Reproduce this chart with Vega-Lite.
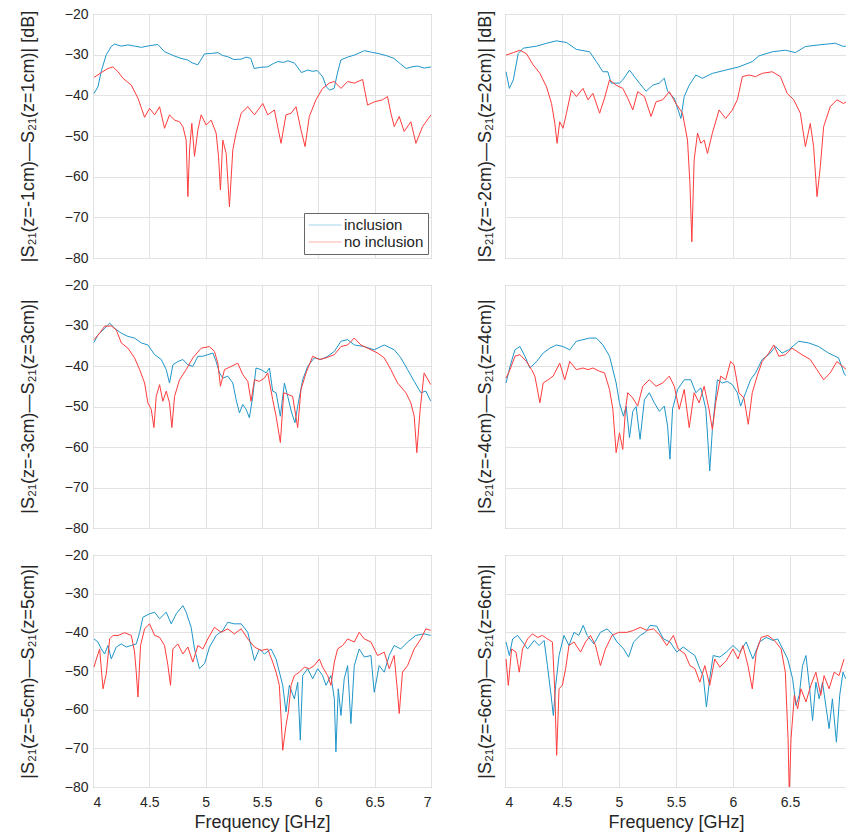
{
"$schema": "https://vega.github.io/schema/vega-lite/v6.json",
"background": "white",
"padding": {"left": 18, "top": 6, "right": 0, "bottom": 0},
"autosize": {"type": "pad"},
"config": {
  "font": "Liberation Sans",
  "view": {"stroke": "#8f8f8f", "strokeWidth": 1},
  "axis": {"domain": false, "grid": true, "gridColor": "#e2e2e2", "gridWidth": 1, "ticks": false, "labelFont": "Liberation Sans", "labelFontSize": 14, "labelColor": "#262626", "titleFont": "Liberation Sans", "titleFontWeight": "normal", "titleColor": "#262626", "titleFontSize": 18},
  "line": {"strokeWidth": 1}
},
"datasets": {
  "p1i": [{"freq":4.01,"dB":-39.5},{"freq":4.044,"dB":-37.9},{"freq":4.074,"dB":-34},{"freq":4.118,"dB":-30},{"freq":4.162,"dB":-28},{"freq":4.19,"dB":-27.4},{"freq":4.25,"dB":-27.9},{"freq":4.31,"dB":-27.6},{"freq":4.37,"dB":-27.9},{"freq":4.43,"dB":-28.2},{"freq":4.5,"dB":-27.8},{"freq":4.576,"dB":-27.5},{"freq":4.635,"dB":-29.3},{"freq":4.68,"dB":-29.8},{"freq":4.72,"dB":-30.3},{"freq":4.78,"dB":-30.9},{"freq":4.84,"dB":-31.3},{"freq":4.88,"dB":-32},{"freq":4.93,"dB":-32.5},{"freq":4.99,"dB":-29.8},{"freq":5.05,"dB":-29.7},{"freq":5.11,"dB":-29.5},{"freq":5.15,"dB":-30.2},{"freq":5.196,"dB":-30.5},{"freq":5.25,"dB":-31.2},{"freq":5.315,"dB":-31.1},{"freq":5.36,"dB":-30.6},{"freq":5.4,"dB":-30.9},{"freq":5.43,"dB":-33.4},{"freq":5.49,"dB":-33.1},{"freq":5.55,"dB":-33},{"freq":5.6,"dB":-32.2},{"freq":5.64,"dB":-31.7},{"freq":5.69,"dB":-31.9},{"freq":5.73,"dB":-31.5},{"freq":5.79,"dB":-32.1},{"freq":5.85,"dB":-34.4},{"freq":5.905,"dB":-33.8},{"freq":5.95,"dB":-34.1},{"freq":5.99,"dB":-33.9},{"freq":6.04,"dB":-35.5},{"freq":6.07,"dB":-37.9},{"freq":6.1,"dB":-38.7},{"freq":6.14,"dB":-38.3},{"freq":6.17,"dB":-34.5},{"freq":6.2,"dB":-31.3},{"freq":6.26,"dB":-30.6},{"freq":6.32,"dB":-30.1},{"freq":6.37,"dB":-29.5},{"freq":6.41,"dB":-29},{"freq":6.47,"dB":-29.4},{"freq":6.53,"dB":-29.7},{"freq":6.6,"dB":-30.2},{"freq":6.67,"dB":-30.9},{"freq":6.73,"dB":-32.3},{"freq":6.78,"dB":-33.4},{"freq":6.83,"dB":-33},{"freq":6.88,"dB":-32.8},{"freq":6.94,"dB":-33.3},{"freq":7.0,"dB":-33}],
  "p1n": [{"freq":4.009,"dB":-35.6},{"freq":4.074,"dB":-34.4},{"freq":4.133,"dB":-33.4},{"freq":4.177,"dB":-33},{"freq":4.222,"dB":-34.2},{"freq":4.266,"dB":-35.8},{"freq":4.34,"dB":-37.5},{"freq":4.399,"dB":-40.7},{"freq":4.458,"dB":-45.4},{"freq":4.502,"dB":-43.2},{"freq":4.547,"dB":-44.8},{"freq":4.591,"dB":-42.8},{"freq":4.635,"dB":-48.1},{"freq":4.679,"dB":-44.8},{"freq":4.724,"dB":-46.1},{"freq":4.768,"dB":-46.5},{"freq":4.798,"dB":-47.7},{"freq":4.827,"dB":-51},{"freq":4.842,"dB":-64.9},{"freq":4.857,"dB":-53.4},{"freq":4.877,"dB":-46.9},{"freq":4.901,"dB":-55},{"freq":4.931,"dB":-48.5},{"freq":4.96,"dB":-44.8},{"freq":5.004,"dB":-47.3},{"freq":5.049,"dB":-46.1},{"freq":5.093,"dB":-49.3},{"freq":5.114,"dB":-55},{"freq":5.131,"dB":-63.3},{"freq":5.152,"dB":-51},{"freq":5.182,"dB":-54.3},{"freq":5.211,"dB":-67.4},{"freq":5.241,"dB":-53.4},{"freq":5.27,"dB":-49.3},{"freq":5.315,"dB":-44.4},{"freq":5.374,"dB":-42.8},{"freq":5.433,"dB":-44.8},{"freq":5.507,"dB":-42},{"freq":5.551,"dB":-44.8},{"freq":5.61,"dB":-43.6},{"freq":5.669,"dB":-51.8},{"freq":5.713,"dB":-44.8},{"freq":5.758,"dB":-44.4},{"freq":5.802,"dB":-42.8},{"freq":5.846,"dB":-48.5},{"freq":5.882,"dB":-52.6},{"freq":5.92,"dB":-45.2},{"freq":5.979,"dB":-41.1},{"freq":6.038,"dB":-38.3},{"freq":6.097,"dB":-37},{"freq":6.142,"dB":-36.6},{"freq":6.201,"dB":-38.3},{"freq":6.26,"dB":-36.6},{"freq":6.319,"dB":-37},{"freq":6.393,"dB":-36.1},{"freq":6.437,"dB":-42.4},{"freq":6.496,"dB":-41.6},{"freq":6.57,"dB":-41.1},{"freq":6.614,"dB":-40.3},{"freq":6.644,"dB":-44.4},{"freq":6.674,"dB":-47.7},{"freq":6.718,"dB":-45.2},{"freq":6.762,"dB":-48.9},{"freq":6.821,"dB":-46.5},{"freq":6.866,"dB":-51.8},{"freq":6.925,"dB":-47.7},{"freq":7.0,"dB":-44.8}],
  "p2i": [{"freq":4.009,"dB":-34.2},{"freq":4.038,"dB":-38.3},{"freq":4.073,"dB":-36.2},{"freq":4.116,"dB":-29.7},{"freq":4.16,"dB":-28.4},{"freq":4.277,"dB":-27.9},{"freq":4.364,"dB":-27.2},{"freq":4.451,"dB":-26.6},{"freq":4.539,"dB":-27},{"freq":4.626,"dB":-28.7},{"freq":4.742,"dB":-29.3},{"freq":4.801,"dB":-31.7},{"freq":4.859,"dB":-34.2},{"freq":4.902,"dB":-34.2},{"freq":4.932,"dB":-37},{"freq":5.004,"dB":-37},{"freq":5.033,"dB":-36.2},{"freq":5.092,"dB":-33.8},{"freq":5.135,"dB":-35.4},{"freq":5.179,"dB":-37},{"freq":5.237,"dB":-39},{"freq":5.296,"dB":-37.5},{"freq":5.354,"dB":-37},{"freq":5.397,"dB":-35.8},{"freq":5.426,"dB":-39},{"freq":5.485,"dB":-40.7},{"freq":5.543,"dB":-45.7},{"freq":5.572,"dB":-40.3},{"freq":5.616,"dB":-37.5},{"freq":5.674,"dB":-35},{"freq":5.732,"dB":-35.8},{"freq":5.82,"dB":-34.6},{"freq":5.936,"dB":-33.8},{"freq":6.052,"dB":-33},{"freq":6.169,"dB":-31.7},{"freq":6.227,"dB":-30.3},{"freq":6.344,"dB":-29.3},{"freq":6.46,"dB":-28.9},{"freq":6.547,"dB":-29.5},{"freq":6.635,"dB":-28},{"freq":6.751,"dB":-27.6},{"freq":6.897,"dB":-27.2},{"freq":6.97,"dB":-28},{"freq":7.0,"dB":-27.8}],
  "p2n": [{"freq":4.009,"dB":-30.1},{"freq":4.073,"dB":-29.5},{"freq":4.131,"dB":-28.9},{"freq":4.189,"dB":-29.8},{"freq":4.247,"dB":-32.5},{"freq":4.306,"dB":-34.6},{"freq":4.364,"dB":-37.9},{"freq":4.408,"dB":-42},{"freq":4.437,"dB":-46.9},{"freq":4.457,"dB":-51.8},{"freq":4.48,"dB":-46.5},{"freq":4.509,"dB":-48.1},{"freq":4.539,"dB":-44.4},{"freq":4.582,"dB":-38.7},{"freq":4.626,"dB":-40.3},{"freq":4.684,"dB":-38.3},{"freq":4.728,"dB":-41.1},{"freq":4.771,"dB":-39.5},{"freq":4.83,"dB":-44.4},{"freq":4.873,"dB":-40.7},{"freq":4.917,"dB":-36.2},{"freq":4.975,"dB":-37.5},{"freq":5.033,"dB":-38.3},{"freq":5.077,"dB":-40.7},{"freq":5.121,"dB":-43.6},{"freq":5.164,"dB":-39.1},{"freq":5.223,"dB":-40.3},{"freq":5.281,"dB":-45.2},{"freq":5.325,"dB":-41.6},{"freq":5.383,"dB":-41.1},{"freq":5.441,"dB":-39.1},{"freq":5.499,"dB":-42},{"freq":5.557,"dB":-44.4},{"freq":5.601,"dB":-51},{"freq":5.622,"dB":-61.6},{"freq":5.639,"dB":-76},{"freq":5.659,"dB":-55.9},{"freq":5.689,"dB":-49.3},{"freq":5.718,"dB":-51.8},{"freq":5.747,"dB":-51},{"freq":5.776,"dB":-54.3},{"freq":5.819,"dB":-49.3},{"freq":5.878,"dB":-43.6},{"freq":5.936,"dB":-45.7},{"freq":5.994,"dB":-43.6},{"freq":6.038,"dB":-41.1},{"freq":6.082,"dB":-35.4},{"freq":6.14,"dB":-35},{"freq":6.198,"dB":-35.4},{"freq":6.256,"dB":-34.6},{"freq":6.344,"dB":-34.2},{"freq":6.416,"dB":-35.4},{"freq":6.475,"dB":-39.5},{"freq":6.533,"dB":-41.1},{"freq":6.591,"dB":-44.4},{"freq":6.635,"dB":-52.6},{"freq":6.678,"dB":-46.9},{"freq":6.707,"dB":-52.6},{"freq":6.737,"dB":-64.9},{"freq":6.766,"dB":-57.5},{"freq":6.795,"dB":-47.7},{"freq":6.853,"dB":-42.8},{"freq":6.911,"dB":-41.1},{"freq":6.97,"dB":-42},{"freq":7.0,"dB":-41.5}],
  "p3i": [{"freq":4.009,"dB":-34.2},{"freq":4.044,"dB":-32.3},{"freq":4.089,"dB":-31.1},{"freq":4.133,"dB":-29.8},{"freq":4.148,"dB":-29.4},{"freq":4.192,"dB":-30.7},{"freq":4.251,"dB":-31.9},{"freq":4.31,"dB":-32.7},{"freq":4.369,"dB":-33.1},{"freq":4.428,"dB":-34.3},{"freq":4.487,"dB":-34.8},{"freq":4.547,"dB":-37.2},{"freq":4.606,"dB":-38.4},{"freq":4.65,"dB":-40.9},{"freq":4.679,"dB":-44.2},{"freq":4.709,"dB":-39.7},{"freq":4.753,"dB":-38.9},{"freq":4.798,"dB":-38.4},{"freq":4.842,"dB":-39.7},{"freq":4.886,"dB":-40.1},{"freq":4.931,"dB":-37.6},{"freq":4.975,"dB":-37.6},{"freq":5.019,"dB":-37.2},{"freq":5.064,"dB":-36.8},{"freq":5.093,"dB":-38.9},{"freq":5.123,"dB":-41.7},{"freq":5.152,"dB":-43},{"freq":5.196,"dB":-42.5},{"freq":5.241,"dB":-44.2},{"freq":5.27,"dB":-48.3},{"freq":5.3,"dB":-51.6},{"freq":5.329,"dB":-49.5},{"freq":5.359,"dB":-50.7},{"freq":5.388,"dB":-52.8},{"freq":5.418,"dB":-47.5},{"freq":5.447,"dB":-40.5},{"freq":5.492,"dB":-40.9},{"freq":5.536,"dB":-41.7},{"freq":5.566,"dB":-40.5},{"freq":5.595,"dB":-46.2},{"freq":5.625,"dB":-46.6},{"freq":5.663,"dB":-52.4},{"freq":5.699,"dB":-44.2},{"freq":5.728,"dB":-47.5},{"freq":5.764,"dB":-51.6},{"freq":5.793,"dB":-54},{"freq":5.817,"dB":-49.9},{"freq":5.861,"dB":-43.4},{"freq":5.905,"dB":-40.1},{"freq":5.964,"dB":-38},{"freq":6.024,"dB":-38.4},{"freq":6.083,"dB":-37.6},{"freq":6.142,"dB":-36.4},{"freq":6.201,"dB":-33.9},{"freq":6.26,"dB":-33.5},{"freq":6.319,"dB":-34.8},{"freq":6.408,"dB":-35.2},{"freq":6.496,"dB":-36},{"freq":6.585,"dB":-34.8},{"freq":6.674,"dB":-36},{"freq":6.733,"dB":-38},{"freq":6.792,"dB":-40.9},{"freq":6.851,"dB":-43.8},{"freq":6.91,"dB":-46.6},{"freq":6.954,"dB":-46.2},{"freq":6.998,"dB":-48.7}],
  "p3n": [{"freq":4.009,"dB":-33.5},{"freq":4.059,"dB":-31.9},{"freq":4.103,"dB":-30.2},{"freq":4.162,"dB":-30.1},{"freq":4.207,"dB":-31.1},{"freq":4.251,"dB":-34.3},{"freq":4.31,"dB":-35.6},{"freq":4.369,"dB":-38},{"freq":4.414,"dB":-40.9},{"freq":4.458,"dB":-44.2},{"freq":4.487,"dB":-49.1},{"freq":4.517,"dB":-50.7},{"freq":4.541,"dB":-55.2},{"freq":4.561,"dB":-47.5},{"freq":4.591,"dB":-44.6},{"freq":4.62,"dB":-48.7},{"freq":4.65,"dB":-46.2},{"freq":4.679,"dB":-49.1},{"freq":4.7,"dB":-55.2},{"freq":4.724,"dB":-47.5},{"freq":4.768,"dB":-43.4},{"freq":4.827,"dB":-40.9},{"freq":4.886,"dB":-38},{"freq":4.96,"dB":-35.6},{"freq":5.034,"dB":-35.2},{"freq":5.078,"dB":-36.4},{"freq":5.108,"dB":-39.3},{"freq":5.131,"dB":-45},{"freq":5.167,"dB":-40.9},{"freq":5.226,"dB":-40.1},{"freq":5.285,"dB":-39.3},{"freq":5.329,"dB":-42.1},{"freq":5.374,"dB":-43.8},{"freq":5.403,"dB":-48.7},{"freq":5.433,"dB":-43.4},{"freq":5.477,"dB":-43.8},{"freq":5.521,"dB":-43},{"freq":5.551,"dB":-41.7},{"freq":5.595,"dB":-48.3},{"freq":5.625,"dB":-52.4},{"freq":5.663,"dB":-58.9},{"freq":5.693,"dB":-46.6},{"freq":5.728,"dB":-47},{"freq":5.772,"dB":-47.5},{"freq":5.817,"dB":-55.2},{"freq":5.846,"dB":-45.8},{"freq":5.891,"dB":-41.7},{"freq":5.95,"dB":-37.6},{"freq":6.009,"dB":-38.4},{"freq":6.068,"dB":-38},{"freq":6.142,"dB":-37.2},{"freq":6.201,"dB":-35.2},{"freq":6.26,"dB":-34.8},{"freq":6.319,"dB":-33.1},{"freq":6.378,"dB":-34.8},{"freq":6.437,"dB":-35.6},{"freq":6.526,"dB":-36.8},{"freq":6.585,"dB":-38},{"freq":6.644,"dB":-40.9},{"freq":6.703,"dB":-44.2},{"freq":6.777,"dB":-46.6},{"freq":6.821,"dB":-49.1},{"freq":6.851,"dB":-52.4},{"freq":6.874,"dB":-61.4},{"freq":6.904,"dB":-50.7},{"freq":6.939,"dB":-41.7},{"freq":6.998,"dB":-44.6}],
  "p4i": [{"freq":4.009,"dB":-44.2},{"freq":4.044,"dB":-40.1},{"freq":4.087,"dB":-36},{"freq":4.131,"dB":-35.2},{"freq":4.175,"dB":-37.6},{"freq":4.218,"dB":-40.5},{"freq":4.277,"dB":-38.9},{"freq":4.335,"dB":-36.8},{"freq":4.393,"dB":-35.6},{"freq":4.451,"dB":-34.8},{"freq":4.509,"dB":-35.2},{"freq":4.568,"dB":-36},{"freq":4.626,"dB":-33.9},{"freq":4.684,"dB":-33.5},{"freq":4.742,"dB":-33.1},{"freq":4.801,"dB":-33.1},{"freq":4.859,"dB":-34.8},{"freq":4.917,"dB":-37.6},{"freq":4.975,"dB":-44.2},{"freq":5.004,"dB":-49.1},{"freq":5.039,"dB":-52.4},{"freq":5.063,"dB":-49.9},{"freq":5.092,"dB":-57.7},{"freq":5.121,"dB":-51.2},{"freq":5.15,"dB":-50},{"freq":5.185,"dB":-58.1},{"freq":5.223,"dB":-48.3},{"freq":5.266,"dB":-46.6},{"freq":5.31,"dB":-49.1},{"freq":5.354,"dB":-51.2},{"freq":5.397,"dB":-49.9},{"freq":5.426,"dB":-54.8},{"freq":5.447,"dB":-63},{"freq":5.47,"dB":-50.6},{"freq":5.514,"dB":-45.8},{"freq":5.572,"dB":-43.4},{"freq":5.63,"dB":-43.4},{"freq":5.674,"dB":-46.6},{"freq":5.718,"dB":-45.4},{"freq":5.762,"dB":-50.6},{"freq":5.796,"dB":-65.9},{"freq":5.819,"dB":-55.7},{"freq":5.863,"dB":-43.4},{"freq":5.907,"dB":-44.2},{"freq":5.95,"dB":-43.8},{"freq":5.994,"dB":-44.6},{"freq":6.038,"dB":-46.6},{"freq":6.067,"dB":-49.9},{"freq":6.111,"dB":-46.6},{"freq":6.154,"dB":-43.4},{"freq":6.198,"dB":-41.7},{"freq":6.256,"dB":-38.4},{"freq":6.314,"dB":-37.2},{"freq":6.373,"dB":-35.2},{"freq":6.431,"dB":-36.8},{"freq":6.489,"dB":-36},{"freq":6.576,"dB":-33.9},{"freq":6.664,"dB":-34.3},{"freq":6.751,"dB":-35.2},{"freq":6.838,"dB":-36.8},{"freq":6.926,"dB":-38},{"freq":6.978,"dB":-42.1},{"freq":7.0,"dB":-42.5}],
  "p4n": [{"freq":4.009,"dB":-43},{"freq":4.044,"dB":-40.9},{"freq":4.087,"dB":-37.6},{"freq":4.131,"dB":-37.2},{"freq":4.189,"dB":-38.9},{"freq":4.233,"dB":-40.9},{"freq":4.262,"dB":-42.5},{"freq":4.306,"dB":-49.1},{"freq":4.335,"dB":-44.2},{"freq":4.378,"dB":-43.4},{"freq":4.422,"dB":-42.5},{"freq":4.48,"dB":-39.3},{"freq":4.524,"dB":-43.4},{"freq":4.568,"dB":-38.9},{"freq":4.626,"dB":-40.9},{"freq":4.684,"dB":-40.5},{"freq":4.728,"dB":-40.9},{"freq":4.771,"dB":-40.5},{"freq":4.83,"dB":-41.3},{"freq":4.873,"dB":-41.7},{"freq":4.917,"dB":-45.8},{"freq":4.946,"dB":-50.7},{"freq":4.975,"dB":-61.4},{"freq":5.004,"dB":-56.5},{"freq":5.033,"dB":-60.6},{"freq":5.057,"dB":-50.7},{"freq":5.077,"dB":-46.6},{"freq":5.121,"dB":-47.9},{"freq":5.164,"dB":-49.9},{"freq":5.208,"dB":-45},{"freq":5.266,"dB":-43.4},{"freq":5.325,"dB":-45},{"freq":5.383,"dB":-44.2},{"freq":5.441,"dB":-42.5},{"freq":5.485,"dB":-45},{"freq":5.528,"dB":-50.7},{"freq":5.572,"dB":-45.8},{"freq":5.616,"dB":-55.2},{"freq":5.659,"dB":-46.6},{"freq":5.703,"dB":-49.1},{"freq":5.747,"dB":-45},{"freq":5.79,"dB":-50.7},{"freq":5.819,"dB":-55.7},{"freq":5.848,"dB":-49.1},{"freq":5.892,"dB":-42.5},{"freq":5.936,"dB":-43.4},{"freq":5.979,"dB":-38.9},{"freq":6.009,"dB":-39.7},{"freq":6.052,"dB":-46.6},{"freq":6.096,"dB":-47.9},{"freq":6.134,"dB":-54.4},{"freq":6.169,"dB":-46.6},{"freq":6.212,"dB":-42.5},{"freq":6.256,"dB":-38.9},{"freq":6.314,"dB":-36.8},{"freq":6.358,"dB":-34.8},{"freq":6.402,"dB":-37.6},{"freq":6.46,"dB":-37.2},{"freq":6.518,"dB":-35.6},{"freq":6.605,"dB":-37.2},{"freq":6.678,"dB":-38.4},{"freq":6.736,"dB":-40.9},{"freq":6.795,"dB":-43.4},{"freq":6.853,"dB":-41.7},{"freq":6.911,"dB":-38.9},{"freq":6.978,"dB":-40.5},{"freq":7.0,"dB":-41}],
  "p5i": [{"freq":4.009,"dB":-41.7},{"freq":4.044,"dB":-42.5},{"freq":4.074,"dB":-44.3},{"freq":4.103,"dB":-45.6},{"freq":4.133,"dB":-43.4},{"freq":4.162,"dB":-46.9},{"freq":4.207,"dB":-43.8},{"freq":4.251,"dB":-43},{"freq":4.295,"dB":-43.8},{"freq":4.34,"dB":-43.4},{"freq":4.384,"dB":-43},{"freq":4.414,"dB":-40},{"freq":4.443,"dB":-36.1},{"freq":4.502,"dB":-35.2},{"freq":4.547,"dB":-34.8},{"freq":4.591,"dB":-36.5},{"freq":4.65,"dB":-34.8},{"freq":4.694,"dB":-37.8},{"freq":4.739,"dB":-35.2},{"freq":4.798,"dB":-33.1},{"freq":4.827,"dB":-34.8},{"freq":4.871,"dB":-38.7},{"freq":4.901,"dB":-44.3},{"freq":4.945,"dB":-49.4},{"freq":4.99,"dB":-48.1},{"freq":5.034,"dB":-43.8},{"freq":5.093,"dB":-40.8},{"freq":5.152,"dB":-39.5},{"freq":5.196,"dB":-37.4},{"freq":5.255,"dB":-37.8},{"freq":5.315,"dB":-37.8},{"freq":5.374,"dB":-40},{"freq":5.433,"dB":-47.3},{"freq":5.477,"dB":-44.3},{"freq":5.521,"dB":-45.6},{"freq":5.58,"dB":-44.3},{"freq":5.625,"dB":-46.9},{"freq":5.684,"dB":-53.7},{"freq":5.713,"dB":-60.6},{"freq":5.743,"dB":-53.7},{"freq":5.787,"dB":-57.2},{"freq":5.817,"dB":-52.9},{"freq":5.84,"dB":-67.9},{"freq":5.861,"dB":-51.2},{"freq":5.905,"dB":-49.4},{"freq":5.95,"dB":-52},{"freq":5.994,"dB":-49.4},{"freq":6.038,"dB":-51.2},{"freq":6.068,"dB":-53.7},{"freq":6.112,"dB":-51.2},{"freq":6.142,"dB":-57.2},{"freq":6.156,"dB":-70.9},{"freq":6.177,"dB":-54.6},{"freq":6.201,"dB":-61.5},{"freq":6.23,"dB":-52},{"freq":6.26,"dB":-48.6},{"freq":6.289,"dB":-63.6},{"freq":6.319,"dB":-48.6},{"freq":6.363,"dB":-44.3},{"freq":6.408,"dB":-46.4},{"freq":6.467,"dB":-46},{"freq":6.496,"dB":-55.5},{"freq":6.54,"dB":-48.6},{"freq":6.585,"dB":-50.3},{"freq":6.629,"dB":-46},{"freq":6.673,"dB":-43.4},{"freq":6.732,"dB":-44.3},{"freq":6.792,"dB":-42.5},{"freq":6.865,"dB":-40.8},{"freq":6.939,"dB":-40.4},{"freq":6.998,"dB":-40.8}],
  "p5n": [{"freq":4.009,"dB":-49},{"freq":4.03,"dB":-46.9},{"freq":4.059,"dB":-44.3},{"freq":4.089,"dB":-54.6},{"freq":4.118,"dB":-50.7},{"freq":4.148,"dB":-41.7},{"freq":4.177,"dB":-40.8},{"freq":4.222,"dB":-40.8},{"freq":4.281,"dB":-40.1},{"freq":4.34,"dB":-40.8},{"freq":4.369,"dB":-45.1},{"freq":4.384,"dB":-50.3},{"freq":4.399,"dB":-56.7},{"freq":4.422,"dB":-43.4},{"freq":4.458,"dB":-39.1},{"freq":4.502,"dB":-37.8},{"freq":4.547,"dB":-40.8},{"freq":4.591,"dB":-41.3},{"freq":4.635,"dB":-43.4},{"freq":4.665,"dB":-48.6},{"freq":4.688,"dB":-53.7},{"freq":4.709,"dB":-44.3},{"freq":4.753,"dB":-43},{"freq":4.798,"dB":-45.6},{"freq":4.842,"dB":-43.8},{"freq":4.886,"dB":-47.7},{"freq":4.931,"dB":-43.4},{"freq":4.975,"dB":-44.3},{"freq":5.019,"dB":-41.7},{"freq":5.078,"dB":-38.7},{"freq":5.137,"dB":-40},{"freq":5.196,"dB":-39.1},{"freq":5.255,"dB":-40.4},{"freq":5.315,"dB":-39.1},{"freq":5.374,"dB":-41.7},{"freq":5.433,"dB":-43.8},{"freq":5.492,"dB":-44.7},{"freq":5.551,"dB":-44.3},{"freq":5.595,"dB":-47.7},{"freq":5.625,"dB":-50.3},{"freq":5.654,"dB":-53.7},{"freq":5.684,"dB":-70.5},{"freq":5.713,"dB":-64.1},{"freq":5.734,"dB":-60.6},{"freq":5.758,"dB":-53.7},{"freq":5.787,"dB":-51.2},{"freq":5.831,"dB":-50.3},{"freq":5.876,"dB":-49},{"freq":5.92,"dB":-49.4},{"freq":5.964,"dB":-48.6},{"freq":6.009,"dB":-46.9},{"freq":6.038,"dB":-49},{"freq":6.083,"dB":-51.2},{"freq":6.112,"dB":-53.7},{"freq":6.142,"dB":-47.7},{"freq":6.171,"dB":-44.3},{"freq":6.216,"dB":-43.4},{"freq":6.26,"dB":-41.7},{"freq":6.319,"dB":-42.5},{"freq":6.363,"dB":-40},{"freq":6.408,"dB":-41.7},{"freq":6.467,"dB":-42.5},{"freq":6.526,"dB":-46},{"freq":6.585,"dB":-45.1},{"freq":6.629,"dB":-49.4},{"freq":6.673,"dB":-46},{"freq":6.703,"dB":-55.5},{"freq":6.718,"dB":-61},{"freq":6.747,"dB":-50.3},{"freq":6.792,"dB":-48.6},{"freq":6.851,"dB":-44.3},{"freq":6.91,"dB":-41.7},{"freq":6.954,"dB":-39.1},{"freq":6.998,"dB":-39.5}],
  "p6i": [{"freq":4.009,"dB":-42.5},{"freq":4.038,"dB":-46},{"freq":4.067,"dB":-41.7},{"freq":4.11,"dB":-40.8},{"freq":4.154,"dB":-42.5},{"freq":4.198,"dB":-44.3},{"freq":4.256,"dB":-42.1},{"freq":4.299,"dB":-43.4},{"freq":4.343,"dB":-42.1},{"freq":4.372,"dB":-48.6},{"freq":4.401,"dB":-55.5},{"freq":4.424,"dB":-61.5},{"freq":4.445,"dB":-53.7},{"freq":4.474,"dB":-46},{"freq":4.517,"dB":-40.8},{"freq":4.561,"dB":-43.4},{"freq":4.605,"dB":-40},{"freq":4.648,"dB":-40.8},{"freq":4.686,"dB":-38.2},{"freq":4.721,"dB":-40.8},{"freq":4.779,"dB":-43},{"freq":4.837,"dB":-40},{"freq":4.895,"dB":-39.1},{"freq":4.939,"dB":-40.4},{"freq":4.983,"dB":-42.5},{"freq":5.041,"dB":-44.3},{"freq":5.084,"dB":-46.4},{"freq":5.128,"dB":-42.5},{"freq":5.186,"dB":-40.8},{"freq":5.23,"dB":-40},{"freq":5.273,"dB":-38.2},{"freq":5.331,"dB":-38.4},{"freq":5.39,"dB":-41.7},{"freq":5.448,"dB":-42.5},{"freq":5.506,"dB":-45.1},{"freq":5.564,"dB":-43.8},{"freq":5.622,"dB":-45.1},{"freq":5.666,"dB":-46},{"freq":5.709,"dB":-49.4},{"freq":5.738,"dB":-51.2},{"freq":5.767,"dB":-59.3},{"freq":5.796,"dB":-52},{"freq":5.826,"dB":-46},{"freq":5.884,"dB":-46.4},{"freq":5.942,"dB":-45.1},{"freq":6.0,"dB":-43.4},{"freq":6.058,"dB":-45.1},{"freq":6.116,"dB":-42.5},{"freq":6.174,"dB":-46.9},{"freq":6.233,"dB":-42.5},{"freq":6.291,"dB":-41.3},{"freq":6.349,"dB":-42.1},{"freq":6.392,"dB":-41.7},{"freq":6.436,"dB":-44.3},{"freq":6.48,"dB":-46.9},{"freq":6.523,"dB":-52},{"freq":6.552,"dB":-58.9},{"freq":6.581,"dB":-56.3},{"freq":6.61,"dB":-48.6},{"freq":6.64,"dB":-46},{"freq":6.669,"dB":-53.7},{"freq":6.698,"dB":-62.8},{"freq":6.727,"dB":-52.9},{"freq":6.756,"dB":-57.2},{"freq":6.785,"dB":-52.9},{"freq":6.814,"dB":-58.9},{"freq":6.843,"dB":-64.9},{"freq":6.872,"dB":-57.2},{"freq":6.907,"dB":-68.4},{"freq":6.936,"dB":-56.3},{"freq":6.965,"dB":-50.3},{"freq":6.988,"dB":-52}],
  "p6n": [{"freq":4.009,"dB":-46.9},{"freq":4.029,"dB":-53.7},{"freq":4.058,"dB":-44.3},{"freq":4.096,"dB":-45.1},{"freq":4.125,"dB":-50.3},{"freq":4.154,"dB":-44.3},{"freq":4.198,"dB":-41.7},{"freq":4.241,"dB":-40.4},{"freq":4.285,"dB":-41.3},{"freq":4.328,"dB":-40.8},{"freq":4.372,"dB":-41.7},{"freq":4.416,"dB":-42.5},{"freq":4.436,"dB":-54.6},{"freq":4.453,"dB":-71.8},{"freq":4.474,"dB":-54.6},{"freq":4.503,"dB":-53.7},{"freq":4.532,"dB":-49.4},{"freq":4.561,"dB":-43.4},{"freq":4.605,"dB":-42.5},{"freq":4.663,"dB":-45.1},{"freq":4.706,"dB":-42.5},{"freq":4.75,"dB":-40.8},{"freq":4.794,"dB":-43.4},{"freq":4.837,"dB":-48.6},{"freq":4.881,"dB":-44.3},{"freq":4.939,"dB":-40.8},{"freq":4.997,"dB":-40},{"freq":5.07,"dB":-40},{"freq":5.128,"dB":-39.5},{"freq":5.186,"dB":-38.7},{"freq":5.244,"dB":-39.5},{"freq":5.302,"dB":-39.1},{"freq":5.36,"dB":-40.8},{"freq":5.419,"dB":-43.4},{"freq":5.477,"dB":-40.8},{"freq":5.52,"dB":-44.3},{"freq":5.579,"dB":-45.6},{"freq":5.622,"dB":-48.6},{"freq":5.666,"dB":-49.4},{"freq":5.709,"dB":-52.9},{"freq":5.753,"dB":-48.6},{"freq":5.796,"dB":-53.7},{"freq":5.84,"dB":-46.9},{"freq":5.884,"dB":-49},{"freq":5.942,"dB":-47.3},{"freq":6.0,"dB":-44.3},{"freq":6.044,"dB":-46.9},{"freq":6.087,"dB":-43.4},{"freq":6.131,"dB":-48.6},{"freq":6.169,"dB":-54.6},{"freq":6.204,"dB":-45.1},{"freq":6.247,"dB":-41.3},{"freq":6.305,"dB":-40.8},{"freq":6.363,"dB":-42.1},{"freq":6.422,"dB":-44.3},{"freq":6.459,"dB":-50.3},{"freq":6.483,"dB":-67.5},{"freq":6.494,"dB":-82},{"freq":6.509,"dB":-67.5},{"freq":6.538,"dB":-56.3},{"freq":6.567,"dB":-59.8},{"freq":6.596,"dB":-54.6},{"freq":6.64,"dB":-58},{"freq":6.683,"dB":-53.7},{"freq":6.727,"dB":-50.3},{"freq":6.77,"dB":-56.3},{"freq":6.799,"dB":-51.2},{"freq":6.843,"dB":-54.6},{"freq":6.887,"dB":-50.3},{"freq":6.93,"dB":-51.2},{"freq":6.974,"dB":-46.9}]
},
"columns": 2,
"spacing": {"row": 27, "column": 74},
"bounds": "flush",
"resolve": {"scale": {"color": "independent"}, "legend": {"color": "independent"}},
"concat": [
  {"width": 338, "height": 244,
   "encoding": {
     "x": {"field": "freq", "type": "quantitative", "scale": {"domain": [4, 7], "nice": false, "zero": false}, "axis": {"values": [4, 4.5, 5, 5.5, 6, 6.5, 7], "labels": false, "title": null}},
     "y": {"field": "dB", "type": "quantitative", "scale": {"domain": [-80, -20], "nice": false, "zero": false}, "axis": {"values": [-80, -70, -60, -50, -40, -30, -20], "labelPadding": 5, "title": "|S₂₁(z=-1cm)—S₂₁(z=1cm)| [dB]", "titleX": -65, "titleY": 122, "titleAngle": -90, "titleBaseline": "middle", "titleAlign": "center"}}
   },
   "layer": [
     {"data": {"name": "p1i"}, "mark": {"type": "line", "clip": true}, "encoding": {"color": {"datum": "inclusion", "type": "nominal", "scale": {"domain": ["inclusion", "no inclusion"], "range": ["#1e96c8", "#ff3c3c"]}, "legend": {"title": null, "orient": "none", "legendX": 211, "legendY": 199, "symbolType": "stroke", "symbolSize": 1089, "symbolStrokeWidth": 1.5, "symbolOpacity": 0.4, "labelFontSize": 15, "labelColor": "#222222", "labelOffset": 2, "strokeColor": "#666666", "fillColor": "white", "padding": 4, "rowPadding": 1, "clipHeight": 16}}}},
     {"data": {"name": "p1n"}, "mark": {"type": "line", "clip": true}, "encoding": {"color": {"datum": "no inclusion", "type": "nominal"}}}
   ]},
  {"width": 342, "height": 244,
   "encoding": {
     "x": {"field": "freq", "type": "quantitative", "scale": {"domain": [4, 7], "nice": false, "zero": false}, "axis": {"values": [4, 4.5, 5, 5.5, 6, 6.5], "labels": false, "title": null}},
     "y": {"field": "dB", "type": "quantitative", "scale": {"domain": [-80, -20], "nice": false, "zero": false}, "axis": {"values": [-80, -70, -60, -50, -40, -30, -20], "labels": false, "title": "|S₂₁(z=-2cm)—S₂₁(z=2cm)| [dB]", "titleX": -20, "titleY": 122, "titleAngle": -90, "titleBaseline": "middle", "titleAlign": "center"}}
   },
   "layer": [
     {"data": {"name": "p2i"}, "mark": {"type": "line", "clip": true}, "encoding": {"color": {"datum": "inclusion", "type": "nominal", "scale": {"domain": ["inclusion", "no inclusion"], "range": ["#1e96c8", "#ff3c3c"]}, "legend": null}}},
     {"data": {"name": "p2n"}, "mark": {"type": "line", "clip": true}, "encoding": {"color": {"datum": "no inclusion", "type": "nominal"}}}
   ]},
  {"width": 338, "height": 243,
   "encoding": {
     "x": {"field": "freq", "type": "quantitative", "scale": {"domain": [4, 7], "nice": false, "zero": false}, "axis": {"values": [4, 4.5, 5, 5.5, 6, 6.5, 7], "labels": false, "title": null}},
     "y": {"field": "dB", "type": "quantitative", "scale": {"domain": [-80, -20], "nice": false, "zero": false}, "axis": {"values": [-80, -70, -60, -50, -40, -30, -20], "labelPadding": 5, "title": "|S₂₁(z=-3cm)—S₂₁(z=3cm)|", "titleX": -65, "titleY": 121, "titleAngle": -90, "titleBaseline": "middle", "titleAlign": "center"}}
   },
   "layer": [
     {"data": {"name": "p3i"}, "mark": {"type": "line", "clip": true}, "encoding": {"color": {"datum": "inclusion", "type": "nominal", "scale": {"domain": ["inclusion", "no inclusion"], "range": ["#1e96c8", "#ff3c3c"]}, "legend": null}}},
     {"data": {"name": "p3n"}, "mark": {"type": "line", "clip": true}, "encoding": {"color": {"datum": "no inclusion", "type": "nominal"}}}
   ]},
  {"width": 342, "height": 243,
   "encoding": {
     "x": {"field": "freq", "type": "quantitative", "scale": {"domain": [4, 7], "nice": false, "zero": false}, "axis": {"values": [4, 4.5, 5, 5.5, 6, 6.5], "labels": false, "title": null}},
     "y": {"field": "dB", "type": "quantitative", "scale": {"domain": [-80, -20], "nice": false, "zero": false}, "axis": {"values": [-80, -70, -60, -50, -40, -30, -20], "labels": false, "title": "|S₂₁(z=-4cm)—S₂₁(z=4cm)|", "titleX": -20, "titleY": 121, "titleAngle": -90, "titleBaseline": "middle", "titleAlign": "center"}}
   },
   "layer": [
     {"data": {"name": "p4i"}, "mark": {"type": "line", "clip": true}, "encoding": {"color": {"datum": "inclusion", "type": "nominal", "scale": {"domain": ["inclusion", "no inclusion"], "range": ["#1e96c8", "#ff3c3c"]}, "legend": null}}},
     {"data": {"name": "p4n"}, "mark": {"type": "line", "clip": true}, "encoding": {"color": {"datum": "no inclusion", "type": "nominal"}}}
   ]},
  {"width": 338, "height": 232,
   "encoding": {
     "x": {"field": "freq", "type": "quantitative", "scale": {"domain": [4, 7], "nice": false, "zero": false}, "axis": {"values": [4, 4.5, 5, 5.5, 6, 6.5, 7], "format": "~g", "labelPadding": 8, "title": "Frequency [GHz]", "titlePadding": 4}},
     "y": {"field": "dB", "type": "quantitative", "scale": {"domain": [-80, -20], "nice": false, "zero": false}, "axis": {"values": [-80, -70, -60, -50, -40, -30, -20], "labelPadding": 5, "title": "|S₂₁(z=-5cm)—S₂₁(z=5cm)|", "titleX": -65, "titleY": 116, "titleAngle": -90, "titleBaseline": "middle", "titleAlign": "center"}}
   },
   "layer": [
     {"data": {"name": "p5i"}, "mark": {"type": "line", "clip": true}, "encoding": {"color": {"datum": "inclusion", "type": "nominal", "scale": {"domain": ["inclusion", "no inclusion"], "range": ["#1e96c8", "#ff3c3c"]}, "legend": null}}},
     {"data": {"name": "p5n"}, "mark": {"type": "line", "clip": true}, "encoding": {"color": {"datum": "no inclusion", "type": "nominal"}}}
   ]},
  {"width": 342, "height": 232,
   "encoding": {
     "x": {"field": "freq", "type": "quantitative", "scale": {"domain": [4, 7], "nice": false, "zero": false}, "axis": {"values": [4, 4.5, 5, 5.5, 6, 6.5], "format": "~g", "labelPadding": 8, "title": "Frequency [GHz]", "titlePadding": 4}},
     "y": {"field": "dB", "type": "quantitative", "scale": {"domain": [-80, -20], "nice": false, "zero": false}, "axis": {"values": [-80, -70, -60, -50, -40, -30, -20], "labels": false, "title": "|S₂₁(z=-6cm)—S₂₁(z=6cm)|", "titleX": -20, "titleY": 116, "titleAngle": -90, "titleBaseline": "middle", "titleAlign": "center"}}
   },
   "layer": [
     {"data": {"name": "p6i"}, "mark": {"type": "line", "clip": true}, "encoding": {"color": {"datum": "inclusion", "type": "nominal", "scale": {"domain": ["inclusion", "no inclusion"], "range": ["#1e96c8", "#ff3c3c"]}, "legend": null}}},
     {"data": {"name": "p6n"}, "mark": {"type": "line", "clip": true}, "encoding": {"color": {"datum": "no inclusion", "type": "nominal"}}}
   ]}
]
}
